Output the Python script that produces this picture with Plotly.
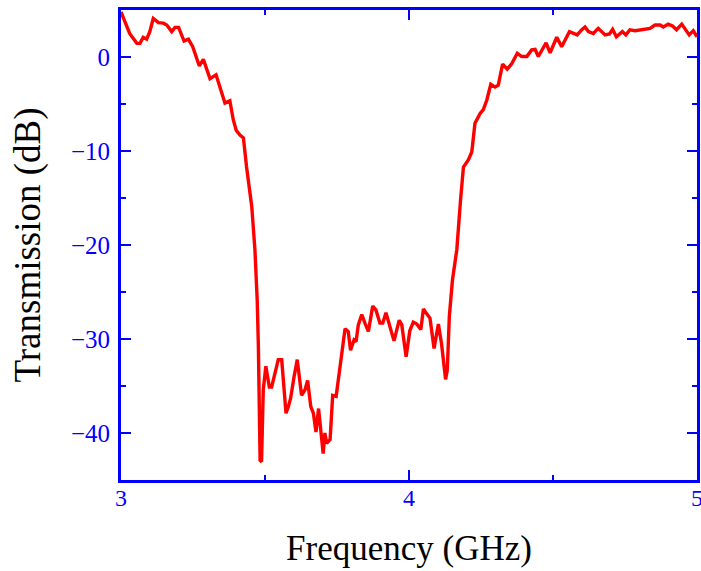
import plotly.graph_objects as go

freq_ghz = [3.0, 3.03, 3.055, 3.066, 3.077, 3.089, 3.10, 3.112, 3.13, 3.147, 3.159, 3.176, 3.1875, 3.2,
            3.219, 3.234, 3.249, 3.272, 3.286, 3.309, 3.33, 3.361, 3.378, 3.39, 3.40, 3.413, 3.425,
            3.436, 3.454, 3.465, 3.473, 3.477, 3.483, 3.488, 3.494, 3.503, 3.515, 3.523, 3.535, 3.546,
            3.558, 3.573, 3.581, 3.589, 3.601, 3.612, 3.627, 3.639, 3.648, 3.659, 3.668, 3.677, 3.686,
            3.693, 3.702, 3.708, 3.714, 3.726, 3.735, 3.747, 3.76, 3.778, 3.789, 3.797, 3.809, 3.816,
            3.824, 3.836, 3.847, 3.859, 3.874, 3.885, 3.899, 3.909, 3.92, 3.934, 3.948, 3.966, 3.975,
            3.99, 4.003, 4.015, 4.027, 4.041, 4.05, 4.061, 4.073, 4.087, 4.102, 4.113, 4.127, 4.133,
            4.14, 4.151, 4.166, 4.179, 4.189, 4.206, 4.218, 4.229, 4.247, 4.258, 4.27, 4.284, 4.299,
            4.31, 4.325, 4.341, 4.357, 4.376, 4.391, 4.409, 4.426, 4.438, 4.449, 4.476, 4.49, 4.513,
            4.53, 4.557, 4.57, 4.584, 4.6, 4.611, 4.623, 4.64, 4.657, 4.681, 4.696, 4.707, 4.72,
            4.741, 4.753, 4.767, 4.785, 4.802, 4.819, 4.837, 4.854, 4.872, 4.883, 4.9, 4.915, 4.929,
            4.947, 4.958, 4.973, 4.987, 5.0]

transmission_db = [4.8, 2.5, 1.45, 1.45, 2.1, 1.9, 2.7, 4.1, 3.65, 3.6, 3.4, 2.7, 3.15, 3.15,
                   1.7, 1.9, 1.1, -0.95, -0.25, -2.3, -1.9, -4.9, -4.65, -6.7, -7.8, -8.3, -8.6,
                   -11.7, -15.9, -20.5, -25.9, -30.8, -42.9, -43.05, -35.4, -32.9, -35.1, -35.1, -33.6, -32.2,
                   -32.2, -37.9, -37.2, -36.3, -34.0, -32.2, -36.0, -35.4, -34.4, -37.2, -37.9, -39.9, -37.4,
                   -39.3, -42.2, -40.0, -41.1, -40.7, -36.0, -36.1, -33.3, -28.9, -29.2, -31.2, -30.1, -30.3,
                   -28.5, -27.4, -28.3, -29.2, -26.5, -26.9, -28.3, -28.3, -27.2, -28.7, -30.2, -28.0, -28.5,
                   -31.9, -29.1, -28.2, -28.4, -29.0, -26.8, -27.3, -27.8, -31.0, -28.4, -30.5, -34.3, -33.3,
                   -27.6, -23.7, -20.5, -15.2, -11.7, -10.96, -10.1, -7.05, -6.0, -5.6, -4.6, -2.9, -3.2,
                   -3.0, -0.75, -1.3, -0.7, 0.4, 0.05, 0.05, 0.75, 0.8, 0.05, 1.5, 0.45, 2.1,
                   1.1, 2.7, 2.5, 2.35, 2.9, 3.2, 2.7, 2.5, 3.05, 2.35, 2.45, 2.95, 2.15,
                   2.7, 2.35, 2.9, 2.8, 2.9, 2.95, 3.05, 3.4, 3.4, 3.2, 3.5, 3.3, 2.9,
                   3.5, 2.95, 2.35, 2.8, 2.15]

x_ticks = [3, 4, 5]
y_ticks = [0, -10, -20, -30, -40]

fig = go.Figure()
fig.add_trace(go.Scatter(x=freq_ghz, y=transmission_db, mode="lines",
                         line=dict(color="#ff0000", width=3.4), showlegend=False))

font_family = "Liberation Serif, Times New Roman, serif"
axis_common = dict(
    showline=True, linecolor="#0000ff", linewidth=3, mirror="allticks",
    ticks="inside", ticklen=10, tickwidth=2, tickcolor="#0000ff",
    showgrid=False, zeroline=False, automargin=False,
)

fig.update_xaxes(range=[3, 5], tickvals=x_ticks, ticktext=[str(v) for v in x_ticks],
                 tickfont=dict(family=font_family, size=24, color="#0000ff"),
                 minor=dict(ticks="inside", ticklen=5, tickwidth=2, tickcolor="#0000ff", dtick=0.5, tick0=3, showgrid=False),
                 title=dict(text="Frequency (GHz)", font=dict(family=font_family, size=35, color="black"), standoff=26),
                 ticklabelstandoff=-6, ticklabeloverflow="allow",
                 **axis_common)
fig.update_yaxes(range=[-45, 5], tickvals=y_ticks,
                 tickfont=dict(family=font_family, size=25, color="#0000ff"),
                 minor=dict(ticks="inside", ticklen=5, tickwidth=2, tickcolor="#0000ff", dtick=5, tick0=0, showgrid=False),
                 title=dict(text="Transmission (dB)", font=dict(family=font_family, size=37, color="black"), standoff=19),
                 ticklabelstandoff=3, ticklabeloverflow="allow",
                 **axis_common)

fig.update_layout(width=701, height=571, margin=dict(l=121, r=4, t=10, b=91),
                  paper_bgcolor="white", plot_bgcolor="white")

fig.write_html("out.html", config={"displayModeBar": False},
               post_script="document.body.style.margin='0px';")
